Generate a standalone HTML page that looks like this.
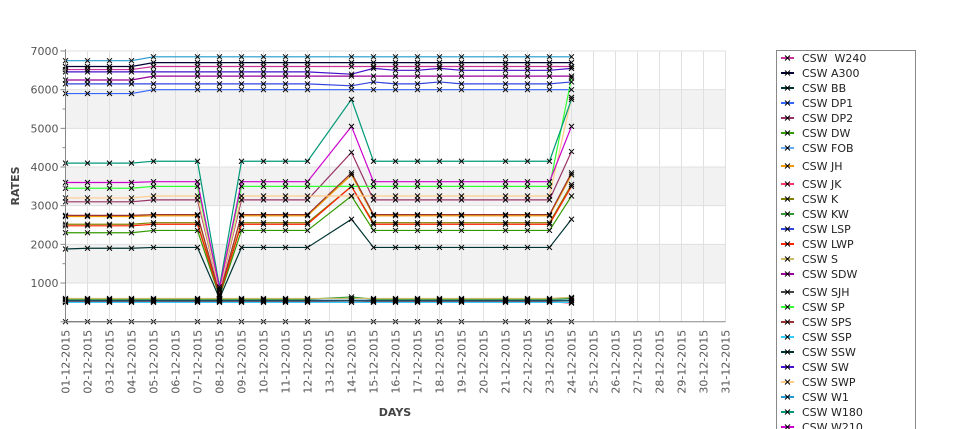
<!DOCTYPE html>
<html><head><meta charset="utf-8">
<style>
html,body{margin:0;padding:0;background:#fff;width:975px;height:429px;overflow:hidden;font-family:"DejaVu Sans","Liberation Sans",sans-serif;}
svg{position:absolute;left:0;top:0;display:block;}
</style></head>
<body>
<svg id="chart" width="975" height="429" viewBox="0 0 975 429" overflow="hidden" xmlns="http://www.w3.org/2000/svg"></svg>
<script>
const allDays = ["01-12-2015","02-12-2015","03-12-2015","04-12-2015","05-12-2015","06-12-2015","07-12-2015","08-12-2015","09-12-2015","10-12-2015","11-12-2015","12-12-2015","13-12-2015","14-12-2015","15-12-2015","16-12-2015","17-12-2015","18-12-2015","19-12-2015","20-12-2015","21-12-2015","22-12-2015","23-12-2015","24-12-2015","25-12-2015","26-12-2015","27-12-2015","28-12-2015","29-12-2015","30-12-2015","31-12-2015"];
const dataDays = [1,2,3,4,5,7,8,9,10,11,12,14,15,16,17,18,19,21,22,23,24];
const yTicks = [1000,2000,3000,4000,5000,6000,7000];
const seriesNames = ["CSW  W240","CSW A300","CSW BB","CSW DP1","CSW DP2","CSW DW","CSW FOB","CSW JH","CSW JK","CSW K","CSW KW","CSW LSP","CSW LWP","CSW S","CSW SDW","CSW SJH","CSW SP","CSW SPS","CSW SSP","CSW SSW","CSW SW","CSW SWP","CSW W1","CSW W180","CSW W210"];
const seriesColors = ["#cc3399","#000033","#003333","#3366ff","#993366","#339900","#66aaee","#ee9900","#ff3366","#808000","#339933","#3344dd","#ff2200","#ccbb66","#990099","#444444","#33ff33","#993333","#33ccff","#003333","#4411cc","#ffcc88","#2299cc","#009977","#cc00cc"];
const sW240 = [6520,6520,6520,6520,6600,6600,6600,6600,6600,6600,6600,6600,6600,6600,6600,6600,6600,6600,6600,6600,6600];
const sA300 = [6600,6600,6600,6600,6700,6700,6700,6700,6700,6700,6700,6700,6700,6700,6700,6700,6700,6700,6700,6700,6700];
const sBB   = [1880,1900,1900,1900,1920,1920,600,1920,1920,1920,1920,2650,1920,1920,1920,1920,1920,1920,1920,1920,2650];
const sDP1  = [5900,5900,5900,5900,6000,6000,6000,6000,6000,6000,6000,6000,6000,6000,6000,6000,6000,6000,6000,6000,6000];
const sDP2  = [3100,3100,3100,3100,3150,3150,800,3150,3150,3150,3150,4380,3150,3150,3150,3150,3150,3150,3150,3150,4400];
const sDW   = [2300,2300,2300,2300,2360,2360,650,2360,2360,2360,2360,3250,2360,2360,2360,2360,2360,2360,2360,2360,3250];
const sFOB  = [560,560,560,560,560,560,560,560,560,560,560,560,560,560,560,560,560,560,560,560,560];
const sJH   = [2720,2720,2720,2720,2740,2740,700,2740,2740,2740,2740,3800,2740,2740,2740,2740,2740,2740,2740,2740,3800];
const sJK   = [520,520,520,520,520,520,520,520,520,520,520,540,520,520,520,520,520,520,520,520,480];
const sK    = [2520,2520,2520,2520,2560,2560,680,2560,2560,2560,2560,3500,2560,2560,2560,2560,2560,2560,2560,2560,3550];
const sKW   = [580,580,580,580,580,580,580,580,580,580,580,640,580,580,580,580,580,580,580,580,600];
const sLSP  = [6150,6150,6150,6150,6150,6150,6150,6150,6150,6150,6150,6100,6200,6150,6150,6200,6150,6150,6150,6150,6200];
const sLWP  = [2480,2480,2480,2480,2520,2520,700,2520,2520,2520,2520,3500,2520,2520,2520,2520,2520,2520,2520,2520,3500];
const sS    = [600,600,600,600,600,600,600,600,600,600,600,600,600,600,600,600,600,600,600,600,630];
const sSDW  = [6250,6250,6250,6250,6350,6350,6350,6350,6350,6350,6350,6350,6350,6350,6350,6350,6350,6350,6350,6350,6350];
const sSJH  = [0,0,0,0,0,0,0,0,0,0,0,0,0,0,0,0,0,0,0,0,0];
const sSP   = [3450,3450,3450,3450,3500,3500,850,3500,3500,3500,3500,3500,3500,3500,3500,3500,3500,3500,3500,3500,6300];
const sSPS  = [2750,2750,2750,2750,2770,2770,720,2770,2770,2770,2770,3850,2770,2770,2770,2770,2770,2770,2770,2770,3850];
const sSSP  = [500,500,500,500,500,500,500,500,500,500,500,500,500,500,500,500,500,500,500,500,500];
const sSSW  = [540,540,540,540,540,540,540,540,540,540,540,540,540,540,540,540,540,540,540,540,540];
const sSW   = [6460,6460,6460,6460,6460,6460,6460,6460,6460,6460,6460,6400,6550,6500,6500,6550,6500,6500,6500,6500,6550];
const sSWP  = [3200,3200,3200,3200,3250,3250,800,3250,3250,3250,3250,3250,3250,3250,3250,3250,3250,3250,3250,3250,5800];
const sW1   = [6750,6750,6750,6750,6850,6850,6850,6850,6850,6850,6850,6850,6850,6850,6850,6850,6850,6850,6850,6850,6850];
const sW180 = [4100,4100,4100,4100,4150,4150,900,4150,4150,4150,4150,5750,4150,4150,4150,4150,4150,4150,4150,4150,5750];
const sW210 = [3600,3600,3600,3600,3620,3620,850,3620,3620,3620,3620,5050,3620,3620,3620,3620,3620,3620,3620,3620,5050];
const seriesValues = [sW240,sA300,sBB,sDP1,sDP2,sDW,sFOB,sJH,sJK,sK,sKW,sLSP,sLWP,sS,sSDW,sSJH,sSP,sSPS,sSSP,sSSW,sSW,sSWP,sW1,sW180,sW210];

const NS="http://www.w3.org/2000/svg";
const svg=document.getElementById('chart');
const X0=65.5, DX=22, Y0=321.7, YTOP=51, YMAX=7000;
function xs(day){return X0+(day-1)*DX;}
function ys(v){return Y0-(v/YMAX)*(Y0-YTOP);}
function mk(tag,attrs,parent){const e=document.createElementNS(NS,tag);for(const k in attrs)e.setAttribute(k,attrs[k]);(parent||svg).appendChild(e);return e;}

const plot=mk('g',{});


[[1000,2000],[3000,4000],[5000,6000]].forEach(b=>{
  const r=mk('rect',{x:X0,y:ys(b[1]),width:xs(31)-X0,height:ys(b[0])-ys(b[1]),fill:'#f2f2f2'},plot);
  
  
});
for(let d=1;d<=31;d++){
  const l=mk('line',{x1:xs(d),x2:xs(d),y1:YTOP,y2:Y0,stroke:'#e0e0e0','stroke-width':1},plot);
  
  
}
yTicks.forEach(v=>{
  const l=mk('line',{x1:X0,x2:xs(31),y1:ys(v),y2:ys(v),stroke:'#e0e0e0','stroke-width':1},plot);
  
  
  const t=mk('text',{x:X0-7,y:ys(v)+4,'text-anchor':'end','font-size':11,fill:'#555'});
  t.textContent=v;
  
  
  mk('line',{x1:X0-5,x2:X0,y1:ys(v),y2:ys(v),stroke:'#888'});
  mk('line',{x1:X0-3,x2:X0,y1:ys(v-500),y2:ys(v-500),stroke:'#888'});
});
const ya=mk('line',{x1:X0,x2:X0,y1:YTOP-2,y2:Y0,stroke:'#888'});


const xa=mk('line',{x1:X0-5,x2:xs(31),y1:Y0,y2:Y0,stroke:'#888'});


allDays.forEach((lab,i)=>{
  const x=xs(i+1);
  const t=mk('text',{x:0,y:0,'text-anchor':'end','font-size':11,fill:'#555',transform:`translate(${x+4},${Y0+8}) rotate(-90)`});
  t.textContent=lab;
  
  
});
seriesValues.forEach((vals,si)=>{
  const g=mk('g',{},plot);
  
  
  const pts=vals.map((v,i)=>xs(dataDays[i])+','+ys(v)).join(' ');
  const pl=mk('polyline',{points:pts,fill:'none',stroke:seriesColors[si],'stroke-width':1.2},g);
  
  
});
seriesValues.forEach((vals,si)=>{
  vals.forEach((v,i)=>{
    if(dataDays[i]===14 && v===0) return;
    const x=xs(dataDays[i]), y=ys(v);
    const p=mk('path',{d:`M${x-2.5},${y-2.5}L${x+2.5},${y+2.5}M${x-2.5},${y+2.5}L${x+2.5},${y-2.5}`,stroke:'#000','stroke-width':1},plot);
    
    
  });
});
const yt=mk('text',{x:0,y:0,'text-anchor':'middle','font-size':11,'font-weight':'bold',fill:'#444',transform:'translate(19,186) rotate(-90)'});
yt.textContent='RATES';


const xt=mk('text',{x:395,y:416,'text-anchor':'middle','font-size':11,'font-weight':'bold',fill:'#444'});
xt.textContent='DAYS';


const lg=mk('g',{});


mk('rect',{x:776.5,y:50.5,width:139,height:385,fill:'#fff',stroke:'#888'},lg);
const legendY=[58,73,88,103,118,133,148,166,184,199,214,229,244,259,274,292,307,322,337,352,367,382,397,412,427];
seriesNames.forEach((n,i)=>{
  const g=mk('g',{},lg);
  
  
  const y=legendY[i];
  mk('line',{x1:781,x2:794,y1:y,y2:y,stroke:seriesColors[i],'stroke-width':2},g);
  mk('path',{d:`M${785},${y-2.5}L${790},${y+2.5}M${785},${y+2.5}L${790},${y-2.5}`,stroke:'#000'},g);
  const t=mk('text',{x:802,y:y+4,'font-size':11,fill:'#222'},g);
  t.setAttribute('xml:space','preserve');
  t.style.whiteSpace='pre';
  t.textContent=n;
});
</script>
</body></html>
